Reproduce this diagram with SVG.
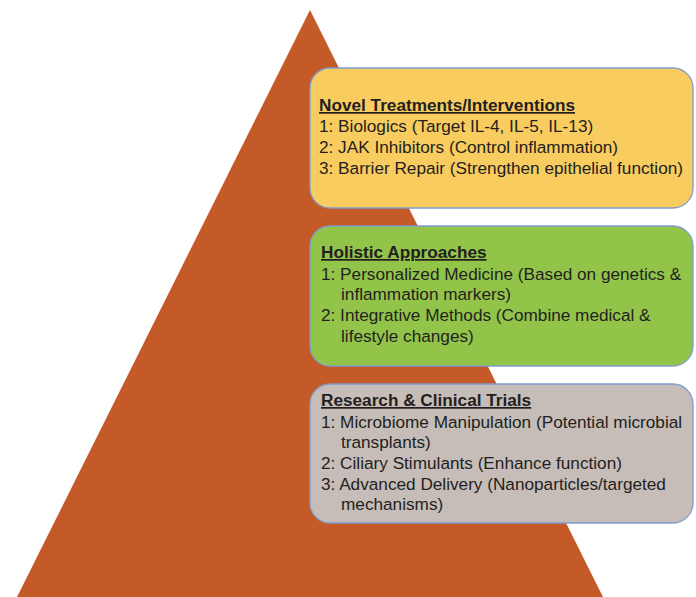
<svg xmlns="http://www.w3.org/2000/svg" width="696" height="597" viewBox="0 0 696 597">
<style>
.box{stroke:#7F9CCB;stroke-width:1.3}
text{font-family:"Liberation Sans",Arial,sans-serif;font-size:17.2px;fill:#231F20}
.t{font-weight:bold;text-decoration:underline}
</style>
<rect width="696" height="597" fill="#ffffff"/>
<g id="pyramid"><polygon points="310,10 603,597 17,597" fill="#C45A27"/></g>
<g id="novel">
<rect class="box" x="310" y="68" width="383" height="140" rx="20" fill="#F9CC5F"/>
<text x="319" y="111" class="t">Novel Treatments/Interventions</text>
<text x="319" y="132">1: Biologics (Target IL-4, IL-5, IL-13)</text>
<text x="319" y="153">2: JAK Inhibitors (Control inflammation)</text>
<text x="319" y="174">3: Barrier Repair (Strengthen epithelial function)</text>
</g>
<g id="holistic">
<rect class="box" x="310" y="226" width="383" height="140" rx="20" fill="#93C44A"/>
<text x="321" y="258" class="t">Holistic Approaches</text>
<text x="321" y="280">1: Personalized Medicine (Based on genetics &amp;</text>
<text x="341" y="300">inflammation markers)</text>
<text x="321" y="321">2: Integrative Methods (Combine medical &amp;</text>
<text x="341" y="342">lifestyle changes)</text>
</g>
<g id="research">
<rect class="box" x="310" y="384" width="383" height="139" rx="20" fill="#C6BDB8"/>
<text x="321" y="406" class="t">Research &amp; Clinical Trials</text>
<text x="321" y="428">1: Microbiome Manipulation (Potential microbial</text>
<text x="341" y="448">transplants)</text>
<text x="321" y="469">2: Ciliary Stimulants (Enhance function)</text>
<text x="321" y="490">3: Advanced Delivery (Nanoparticles/targeted</text>
<text x="341" y="510">mechanisms)</text>
</g>
<g id="connectors"/>
</svg>
